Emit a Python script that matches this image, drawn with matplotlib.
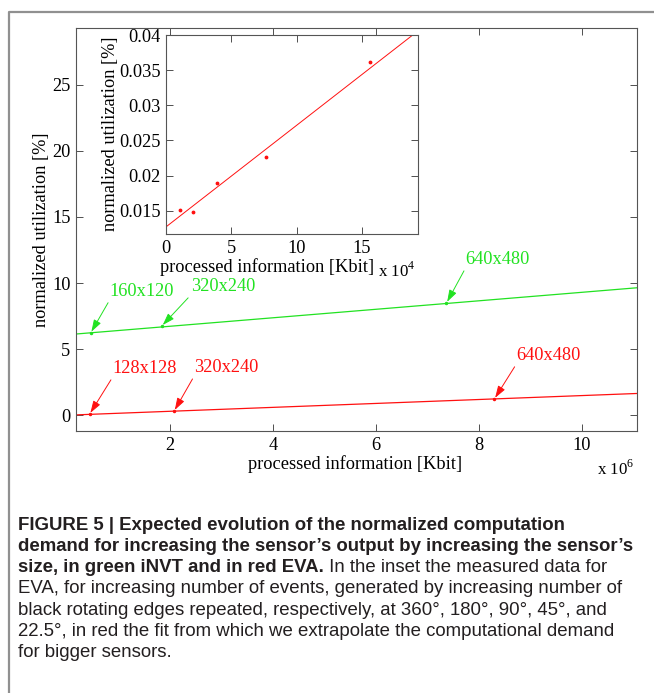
import matplotlib
matplotlib.use("Agg")
import matplotlib.pyplot as plt
import numpy as np

plt.rcParams['font.family'] = ['Liberation Serif', 'DejaVu Serif']
plt.rcParams['mathtext.fontset'] = 'custom'
plt.rcParams['mathtext.rm'] = 'Liberation Serif'

# main chart: sensor sizes (x in Kbit, y in %)
green_labels = ['160x120', '320x240', '640x480']
green_x = [0.46e6, 1.84e6, 7.37e6]
green_y = [6.22, 6.74, 8.48]
green_fit_x = [0.175e6, 11.07e6]
green_fit_y = [6.14, 9.64]

red_labels = ['128x128', '320x240', '640x480']
red_x = [0.44e6, 2.08e6, 8.30e6]
red_y = [0.08, 0.30, 1.22]
red_fit_x = [0.175e6, 11.07e6]
red_fit_y = [0.02, 1.64]

# inset: measured EVA data
inset_x = [1.11e4, 2.04e4, 3.90e4, 7.68e4, 15.66e4]
inset_y = [0.0151, 0.01486, 0.0189, 0.0227, 0.0362]
inset_fit_x = [0.0, 19.3e4]
inset_fit_y = [0.01271, 0.04058]

main_xticks = [2, 4, 6, 8, 10]
main_yticks = [0, 5, 10, 15, 20, 25]
inset_xticks = [0, 5, 10, 15]
inset_yticks = [0.015, 0.02, 0.025, 0.03, 0.035, 0.04]
inset_yticklabels = ['0.015', '0.02', '0.025', '0.03', '0.035', '0.04']

# label offsets in pixels (arrow tail relative to point)
green_offsets = [(19, 33), (29, 31), (19, 35)]
red_offsets = [(23, 37), (20, 35), (22, 35)]

W, H = 654, 693
fig = plt.figure(figsize=(W / 100, H / 100), dpi=100)
GREEN = '#22e222'
RED = '#ff1010'
FS = 13.2


def fx(px):
    return px / W


def fy(py):
    return 1 - py / H


# outer frame of the figure panel
fig.add_artist(plt.Line2D([fx(9), fx(9), fx(660)], [fy(700), fy(12), fy(12)],
                          color='#909090', lw=1.6, transform=fig.transFigure))

ax = fig.add_axes([fx(76), fy(431), fx(637 - 76), fy(28) - fy(431)])
ax.plot(np.array(green_fit_x) / 1e6, green_fit_y, color=GREEN, lw=0.9)
ax.plot(np.array(green_x) / 1e6, green_y, '.', color=GREEN, ms=3)
ax.plot(np.array(red_fit_x) / 1e6, red_fit_y, color=RED, lw=0.9)
ax.plot(np.array(red_x) / 1e6, red_y, '.', color=RED, ms=3)

for xs, ys, labels, offs, col in [(green_x, green_y, green_labels, green_offsets, GREEN),
                                  (red_x, red_y, red_labels, red_offsets, RED)]:
    for x, y, lab, off in zip(xs, ys, labels, offs):
        ax.annotate(lab, xy=(x / 1e6, y), xytext=off, textcoords='offset pixels',
                    ha='left', va='bottom', color=col, fontsize=FS,
                    arrowprops=dict(arrowstyle='-|>,head_length=0.55,head_width=0.18',
                                    color=col, lw=0.7, relpos=(0, 0),
                                    shrinkA=0, shrinkB=1))

ax.set_xlim(0.175, 11.07)
ax.set_ylim(-1.2, 29.3)
ax.set_xticks(main_xticks)
ax.set_yticks(main_yticks)
ax.tick_params(direction='in', top=True, right=True, length=5, width=0.6,
               labelsize=FS, colors='#333333', labelcolor='black', pad=4)
for s in ax.spines.values():
    s.set_color('#555555')
    s.set_linewidth(0.8)

fig.text(fx(355), fy(464), 'processed information [Kbit]', ha='center', va='center', fontsize=FS)
fig.text(fx(42), fy(230), 'normalized utilization [%]', ha='center', va='center',
         rotation=90, fontsize=FS)
fig.text(fx(597), fy(469), r'x 10$^{6}$', ha='left', va='center', fontsize=FS - 1)

ins = fig.add_axes([fx(166), fy(234), fx(418 - 166), fy(35) - fy(234)])
ins.plot(np.array(inset_fit_x) / 1e4, inset_fit_y, color=RED, lw=0.7)
ins.plot(np.array(inset_x) / 1e4, inset_y, '.', color=RED, ms=3.5)
ins.set_xlim(0, 19.3)
ins.set_ylim(0.0117, 0.040)
ins.set_xticks(inset_xticks)
ins.set_yticks(inset_yticks)
ins.set_yticklabels(inset_yticklabels)
ins.tick_params(direction='in', top=True, right=True, length=5, width=0.6,
                labelsize=FS, colors='#333333', labelcolor='black', pad=4)
for s in ins.spines.values():
    s.set_color('#555555')
    s.set_linewidth(0.8)

fig.text(fx(267), fy(267), 'processed information [Kbit]', ha='center', va='center', fontsize=FS)
fig.text(fx(110), fy(134), 'normalized utilization [%]', ha='center', va='center',
         rotation=90, fontsize=FS)
fig.text(fx(378), fy(271), r'x 10$^{4}$', ha='left', va='center', fontsize=FS - 1)

# caption
cap_font = ['Liberation Sans Narrow', 'Liberation Sans', 'DejaVu Sans']
cap_lines = [
    ('FIGURE 5 | Expected evolution of the normalized computation', ''),
    ("demand for increasing the sensor\u2019s output by increasing the sensor\u2019s", ''),
    ('size, in green iNVT and in red EVA.', ' In the inset the measured data for'),
    ('', 'EVA, for increasing number of events, generated by increasing number of'),
    ('', 'black rotating edges repeated, respectively, at 360\u00b0, 180\u00b0, 90\u00b0, 45\u00b0, and'),
    ('', '22.5\u00b0, in red the fit from which we extrapolate the computational demand'),
    ('', 'for bigger sensors.'),
]
cap_y0 = 525
cap_dy = 21.3
CAP_FS = 13.4
for i, (bold, normal) in enumerate(cap_lines):
    y = fy(cap_y0 + i * cap_dy)
    t = None
    if bold:
        t = fig.text(fx(18), y, bold, ha='left', va='center', fontsize=CAP_FS,
                     fontweight='bold', family=cap_font, color='#231f20')
    if normal:
        if t is not None:
            fig.canvas.draw()
            bb = t.get_window_extent()
            x0 = bb.x1 / W
        else:
            x0 = fx(18)
        fig.text(x0, y, normal, ha='left', va='center', fontsize=CAP_FS,
                 family=cap_font, color='#231f20')

fig.savefig('out.png', dpi=100)
